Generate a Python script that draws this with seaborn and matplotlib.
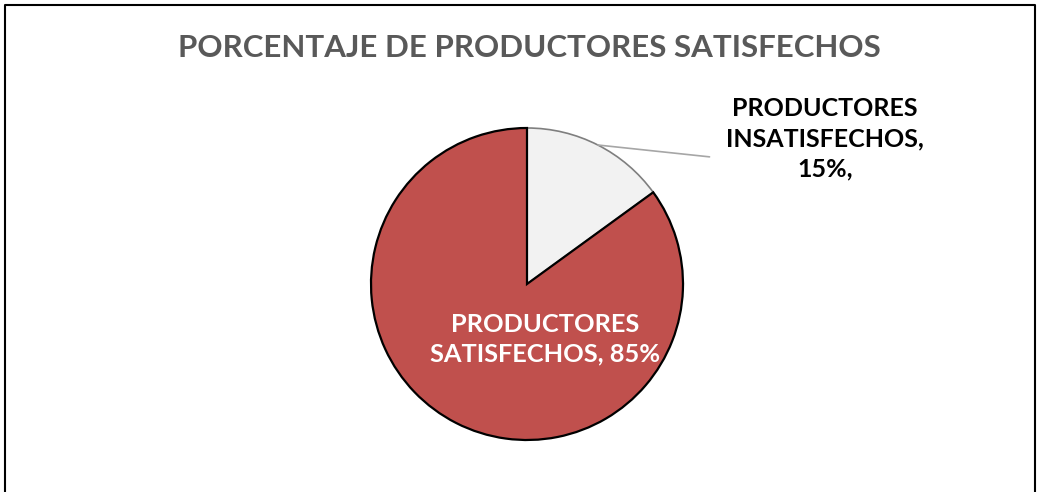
import numpy as np
import matplotlib
matplotlib.use("Agg")
import matplotlib.pyplot as plt
import seaborn as sns
from matplotlib.lines import Line2D

# === Data ===
categories = ["PRODUCTORES INSATISFECHOS", "PRODUCTORES SATISFECHOS"]
values = [15, 85]
colors = ["#F2F2F2", "#C0504D"]
title = "PORCENTAJE DE PRODUCTORES SATISFECHOS"

sns.set_theme(style="white")
plt.rcParams['font.family'] = ['Lato', 'DejaVu Sans']

W, H = 1039, 492
fig = plt.figure(figsize=(W / 100, H / 100), dpi=100)

# pie centre (527, 284) px, radius 156 px
cx, cy, r = 527, 284, 156
ax = fig.add_axes([(cx - r) / W, 1 - (cy + r) / H, 2 * r / W, 2 * r / H])
wedges, _ = ax.pie(values, colors=colors, startangle=90, counterclock=False,
                   radius=1.0,
                   wedgeprops=dict(edgecolor="black", linewidth=1.6))
wedges[0].set_edgecolor("#7F7F7F")
wedges[0].set_linewidth(1.2)
ax.set_xlim(-1, 1)
ax.set_ylim(-1, 1)
ax.set_aspect("equal")
ax.axis("off")

# label for the small slice, with leader line from the slice middle
theta = np.deg2rad(90 - values[0] / sum(values) * 360 * 0.5)
ax.plot([np.cos(theta), 1.17], [np.sin(theta), 0.815], color="#A6A6A6",
        lw=1.2, clip_on=False)
ax.text(1.91, 0.93, f"PRODUCTORES\nINSATISFECHOS,\n{values[0]}%,",
        ha="center", va="center", fontsize=18, fontweight="bold",
        color="black", linespacing=1.38, clip_on=False)

# label inside the big slice
ax.text(0.115, -0.355, f"PRODUCTORES\nSATISFECHOS, {values[1]}%",
        ha="center", va="center", fontsize=18.3, fontweight="bold",
        color="white", linespacing=1.35)

fig.text(529 / W, 1 - 48 / H, title, ha="center", va="center",
         fontsize=22.5, fontweight="bold", color="#595959")

# chart border (left, top, right)
x0, x1, yt = 4.5 / W, 1034.5 / W, 1 - 4.5 / H
fig.add_artist(Line2D([x0, x0, x1, x1], [0, yt, yt, 0],
                      transform=fig.transFigure, color="black", lw=1.5))

fig.savefig("out.png", dpi=100)
